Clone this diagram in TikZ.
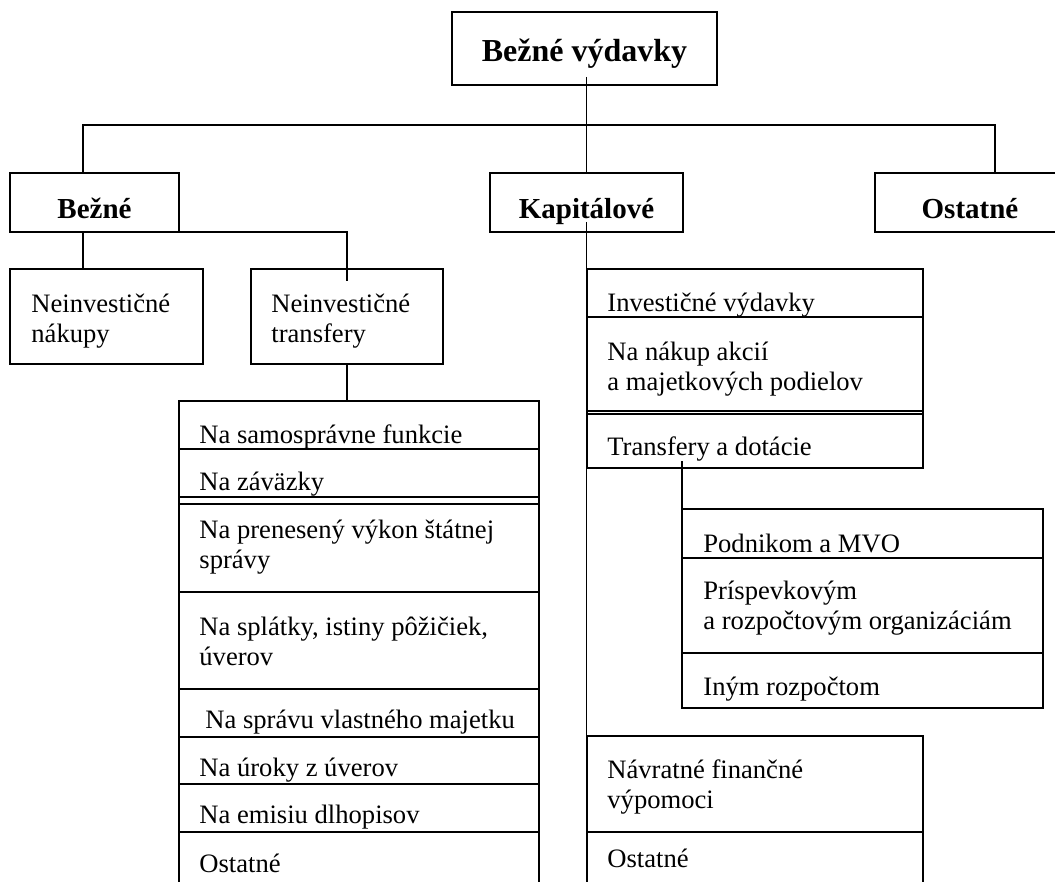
\documentclass[tikz,border=0pt]{standalone}
\usepackage{fontspec}
\setmainfont{Liberation Serif}
\usepackage{tikz}

\begin{document}
\begin{tikzpicture}[x=0.5pt,y=-0.5pt,
    box/.style={draw,line width=0.9pt,inner sep=0pt,outer sep=0pt},
    link/.style={line width=0.75pt},
    txt/.style={anchor=base west,align=left,inner sep=0pt,font=\fontsize{13.3}{15}\selectfont},
    head/.style={anchor=base,inner sep=0pt,font=\fontsize{14.5}{17}\selectfont\bfseries}]
  \useasboundingbox (0,0) rectangle (1055,882);

  % Top box
  \node[box,minimum width=132.5pt,minimum height=36.5pt] (top) at (584.5,48.5) {};
  \node[head,font=\fontsize{16}{19}\selectfont\bfseries] (topt) at (584.5,62) {Bežné výdavky};

  % Second level
  \node[box,minimum width=84.5pt,minimum height=29.5pt] (bez) at (94.5,202.5) {};
  \node[head] (bezt) at (94.5,219) {Bežné};
  \node[box,minimum width=96.5pt,minimum height=29.5pt] (kap) at (586.5,202.5) {};
  \node[head] (kapt) at (586.5,219) {Kapitálové};
  \node[box,minimum width=96pt,minimum height=29.5pt] (ost) at (971,202.5) {};
  \node[head] (ostt) at (970,219) {Ostatné};

  % Bus
  \coordinate (busL) at (83,125);
  \coordinate (busR) at (995,125);
  \draw[link] (top.south -| kap.north) ++(0,-8) -- (kap.north);
  \draw[link] (bez.north -| busL) -- (busL) -- (busR) -- (ost.north -| busR);

  % Bezne branch (base of the last line)
  \node[box,minimum width=96.5pt,minimum height=47.5pt] (nak) at (106.5,316.5) {};
  \node[txt] (nakt) at (31,343) {Neinvestičné\\nákupy};
  \node[box,minimum width=96pt,minimum height=47.5pt] (tra) at (347,316.5) {};
  \node[txt] (trat) at (271,343) {Neinvestičné\\transfery};
  \draw[link] (bez.south -| busL) -- (nak.north -| busL);
  \draw[link] (bez.south east) -| (tra.north) -- ++(0,12);

  % Transfer list
  \node[box,minimum width=180pt,minimum height=24pt] (r1) at (359,425) {};
  \node[txt] (r1t) at (199,443) {Na samosprávne funkcie};
  \node[box,minimum width=180pt,minimum height=27.5pt] (r2) at (359,476.5) {};
  \node[txt] (r2t) at (199,490) {Na záväzky};
  \node[box,minimum width=180pt,minimum height=47.5pt] (r3) at (359,544.5) {};
  \node[txt] (r3t) at (199,568) {Na prenesený výkon štátnej\\správy};
  \node[box,minimum width=180pt,minimum height=48.5pt] (r4) at (359,640.5) {};
  \node[txt] (r4t) at (199,665) {Na splátky, istiny pôžičiek,\\úverov};
  \node[box,minimum width=180pt,minimum height=24pt] (r5) at (359,713) {};
  \node[txt] (r5t) at (205,728) {Na správu vlastného majetku};
  \node[box,minimum width=180pt,minimum height=23.5pt] (r6) at (359,760.5) {};
  \node[txt] (r6t) at (199,776) {Na úroky z úverov};
  \node[box,minimum width=180pt,minimum height=24pt] (r7) at (359,808) {};
  \node[txt] (r7t) at (199,823) {Na emisiu dlhopisov};
  \node[box,minimum width=180pt,minimum height=30pt] (r8) at (359,862) {};
  \node[txt] (r8t) at (199,872) {Ostatné};
  \draw[link] (tra.south) -- (tra.south |- r1.north);

  % Kapitalove branch
  \node[box,minimum width=168pt,minimum height=24pt] (i1) at (755,293) {};
  \node[txt] (i1t) at (607,312) {Investičné výdavky};
  \node[box,minimum width=168pt,minimum height=48.5pt] (i2) at (755,365.5) {};
  \node[txt] (i2t) at (607,390) {Na nákup akcií\\a majetkových podielov};
  \node[box,minimum width=168pt,minimum height=28.5pt] (i3) at (755,439.5) {};
  \node[txt] (i3t) at (607,455) {Transfery a dotácie};
  \draw[link] (kap.south) ++(0,-10) -- (kap.south |- r8.south);

  % Subsidies
  \node[box,minimum width=180.5pt,minimum height=24.5pt] (s1) at (862.5,533.5) {};
  \node[txt] (s1t) at (703,552) {Podnikom a MVO};
  \node[box,minimum width=180.5pt,minimum height=47.5pt] (s2) at (862.5,605.5) {};
  \node[txt] (s2t) at (703,629) {Príspevkovým\\a rozpočtovým organizáciám};
  \node[box,minimum width=180.5pt,minimum height=27.5pt] (s3) at (862.5,680.5) {};
  \node[txt] (s3t) at (703,695) {Iným rozpočtom};
  \draw[link] (s1.north west |- i3.south) ++(0,-7) -- (s1.north west);

  % Loans
  \node[box,minimum width=168pt,minimum height=48pt] (n1) at (755,784) {};
  \node[txt] (n1t) at (607,808) {Návratné finančné\\výpomoci};
  \node[box,minimum width=168pt,minimum height=30pt] (n2) at (755,862) {};
  \node[txt] (n2t) at (607,867) {Ostatné};
\end{tikzpicture}
\end{document}
